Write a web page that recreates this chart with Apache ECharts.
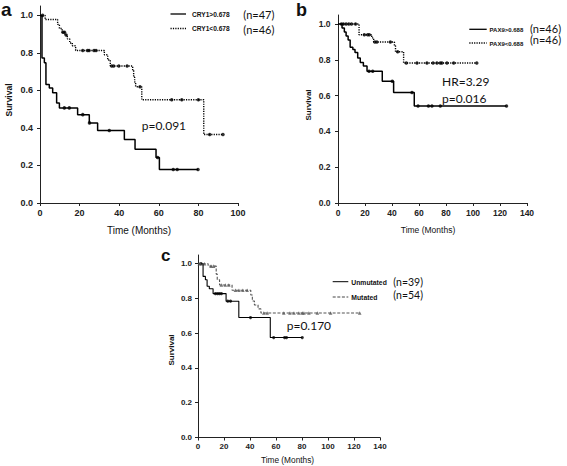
<!DOCTYPE html>
<html>
<head>
<meta charset="utf-8">
<script src="https://cdn.jsdelivr.net/npm/echarts@6/dist/echarts.min.js"></script>
<style>html,body{margin:0;padding:0;background:#fff}#c{width:567px;height:466px}</style>
</head>
<body>
<div id="c"></div>
<script>
// ---------- Panel a (CRY1) ----------
const aHighTime = [0, 1, 2.2, 3, 4.7, 6.4, 8.4, 9.8, 19, 24.9, 29.1, 42.6, 48, 58.6, 60.3, 79.8];
const aHighSurv = [1.0, 0.773, 0.747, 0.631, 0.613, 0.587, 0.533, 0.507, 0.471, 0.427, 0.386, 0.338, 0.287, 0.242, 0.179, 0.179];
const aHighCens = [12.3, 14.8, 21.6, 25.0, 35.0, 59.4, 67.3, 69.3, 79.8];
const aLowTime = [0, 2.6, 8.9, 9.8, 11.2, 12.6, 13.8, 15.0, 16.3, 18.0, 32.5, 34.2, 35.5, 46.8, 47.3, 47.8, 48.3, 51.4, 82.7, 92.4];
const aLowSurv = [1.0, 0.978, 0.952, 0.93, 0.91, 0.895, 0.875, 0.853, 0.838, 0.813, 0.79, 0.762, 0.73, 0.706, 0.67, 0.645, 0.62, 0.55, 0.365, 0.365];
const aLowCens = [1.3, 11.6, 12.4, 13.2, 21.6, 24.0, 24.8, 27.3, 28.3, 36.2, 37.2, 39.8, 44.0, 50.5, 66.5, 71.6, 80.0, 85.7, 92.4];

// ---------- Panel b (PAX9) ----------
const bHighTime = [0, 3, 4.7, 6, 7.5, 9, 11, 12.6, 14.6, 16.5, 18.8, 21.5, 32.8, 41.2, 56.5, 124.8];
const bHighSurv = [1.0, 0.978, 0.955, 0.933, 0.91, 0.87, 0.858, 0.84, 0.81, 0.785, 0.765, 0.736, 0.68, 0.617, 0.542, 0.542];
const bHighCens = [23.0, 25.7, 40.2, 54.8, 59.3, 67.0, 69.6, 75.8, 124.8];
const bLowTime = [0, 15.6, 25.0, 26.4, 41.8, 42.6, 48.6, 102.8];
const bLowSurv = [1.0, 0.94, 0.922, 0.899, 0.878, 0.845, 0.782, 0.782];
const bLowCens = [2.5, 4.0, 6.0, 8.0, 10.0, 13.0, 19.5, 22.0, 23.2, 27.3, 28.8, 38.8, 44.2, 50.6, 58.5, 65.9, 70.4, 73.3, 75.8, 77.0, 80.7, 85.7, 102.8];

// ---------- Panel c (mutation) ----------
const cUnmutTime = [0, 3.9, 5.7, 7.0, 8.7, 11.6, 21.6, 31.4, 55.6, 80.2];
const cUnmutSurv = [1.0, 0.927, 0.908, 0.87, 0.856, 0.828, 0.784, 0.69, 0.575, 0.575];
const cUnmutCens = [2.3, 13.4, 15.0, 16.5, 18.0, 22.9, 25.0, 40.4, 58.2, 66.6, 68.1, 80.2];
const cMutTime = [0, 7.8, 14.0, 14.8, 16.6, 26.2, 40.6, 41.8, 43.4, 46.2, 48.4, 124.4];
const cMutSurv = [1.0, 0.986, 0.94, 0.908, 0.877, 0.847, 0.82, 0.785, 0.762, 0.74, 0.716, 0.716];
const cMutCens = [1.0, 2.5, 5.0, 10.0, 12.0, 18.0, 21.0, 23.7, 28.8, 31.5, 34.5, 37.8, 50.6, 53.2, 66.0, 70.7, 73.8, 77.6, 80.2, 81.5, 85.3, 91.8, 102.0, 124.4];

// ---------- Axes / text ----------
const yTickValues = [0, 0.2, 0.4, 0.6, 0.8, 1.0];
const xMaxA = 100, xMaxB = 140, xMaxC = 140;
const panelLetters = ['a', 'b', 'c'];
const yTitle = 'Survival';
const xTitle = 'Time (Months)';
const legendA = ['CRY1>0.678', 'CRY1<0.678'];
const legendANs = ['(n=47)', '(n=46)'];
const legendB = ['PAX9>0.688', 'PAX9<0.688'];
const legendBNs = ['(n=46)', '(n=46)'];
const legendC = ['Unmutated', 'Mutated'];
const legendCNs = ['(n=39)', '(n=54)'];
const statA = ['p=0.091'];
const statB = ['HR=3.29', 'p=0.016'];
const statC = ['p=0.170'];

function steps(T, S) { return T.map((t, i) => [t, S[i]]); }
function survAt(T, S, t) { let v = S[0]; for (let i = 0; i < T.length; i++) { if (T[i] <= t + 1e-9) v = S[i]; } return v; }
function cens(T, S, C) { return C.map(t => [t, survAt(T, S, t)]); }

const AX = '#222';
const tickFont = { color: AX, fontSize: 8.5, fontWeight: 'bold', fontFamily: 'Liberation Sans, Arial, sans-serif' };

function xAxis(idx, max, fs) {
  return {
    type: 'value', gridIndex: idx, min: 0, max: max, interval: 20,
    axisLine: { show: true, onZero: false, lineStyle: { color: AX, width: 1 } },
    axisTick: { show: true, length: 3, lineStyle: { color: AX, width: 1 } },
    axisLabel: Object.assign({ margin: 5 }, tickFont, { fontSize: fs }),
    splitLine: { show: false }
  };
}
function yAxis(idx, fs, margin) {
  return {
    type: 'value', gridIndex: idx, min: 0, max: 1.05, interval: 0.2,
    axisLine: { show: true, onZero: false, lineStyle: { color: AX, width: 1 } },
    axisTick: { show: true, length: 3, customValues: yTickValues, lineStyle: { color: AX, width: 1 } },
    axisLabel: Object.assign({ margin: margin, customValues: yTickValues, formatter: v => v.toFixed(1) }, tickFont, { fontSize: fs }),
    splitLine: { show: false }
  };
}

function stepSeries(idx, name, T, S, color, width, type) {
  return {
    type: 'line', name: name, xAxisIndex: idx, yAxisIndex: idx, step: 'end',
    data: steps(T, S), showSymbol: false, symbol: 'none', silent: true,
    lineStyle: { color: color, width: width, type: type }
  };
}
function censSeries(idx, T, S, C, color, symbol, size) {
  return {
    type: 'scatter', xAxisIndex: idx, yAxisIndex: idx, data: cens(T, S, C),
    symbol: symbol, symbolSize: size, itemStyle: { color: color }, silent: true
  };
}

function txt(x, y, text, font, opts) {
  return Object.assign({
    type: 'text', x: x, y: y, silent: true,
    style: Object.assign({ text: text, font: font, fill: '#111', align: 'left', verticalAlign: 'middle', textAlign: 'left', textVerticalAlign: 'middle' }, (opts && opts.style) || {})
  }, (opts && opts.el) || {});
}
function ln(x1, y, x2, dash, color, w) {
  return { type: 'line', silent: true, shape: { x1: x1, y1: y, x2: x2, y2: y }, style: { stroke: color || '#000', lineWidth: w || 1.2, lineDash: dash || null } };
}
const center = { style: { align: 'center', textAlign: 'center' } };
const vert = (x, y, t, f) => txt(x, y, t, f, { style: { align: 'center', textAlign: 'center' }, el: { rotation: Math.PI / 2 } });

const F = 'Liberation Sans, Arial, sans-serif';
const FL = 'Lato, Open Sans, sans-serif';

const graphics = [
  // panel letters
  txt(1, 9.5, panelLetters[0], 'bold 19px ' + F),
  txt(296, 9.5, panelLetters[1], 'bold 18px ' + F),
  txt(161, 255, panelLetters[2], 'bold 17px ' + F),
  // axis titles
  vert(9, 100, yTitle, 'bold 8.5px ' + F),
  vert(308.5, 105, yTitle, 'bold 8px ' + F),
  vert(171, 350, yTitle, 'bold 8px ' + F),
  txt(139, 230, xTitle, '10px ' + F, center),
  txt(428, 230, xTitle, '8.5px ' + F, center),
  txt(287.5, 460, xTitle, '8.3px ' + F, center),
  // legend a
  ln(170.5, 14, 186, null, '#000', 1.3),
  ln(170.5, 28.5, 186, [1.2, 1.2], '#000', 1.3),
  txt(192, 14.3, legendA[0], 'bold 6.6px ' + F),
  txt(192, 28.8, legendA[1], 'bold 6.6px ' + F),
  txt(243.3, 14, legendANs[0], '11px ' + FL),
  txt(243.3, 29, legendANs[1], '11px ' + FL),
  // legend b
  ln(469.3, 29.3, 486.7, null, '#000', 1.3),
  ln(469.3, 43, 486.7, [1.2, 1.2], '#000', 1.3),
  txt(489.5, 30, legendB[0], 'bold 6px ' + F),
  txt(489.5, 44, legendB[1], 'bold 6px ' + F),
  txt(530, 28.3, legendBNs[0], '11px ' + FL),
  txt(530, 39.8, legendBNs[1], '11px ' + FL),
  // legend c
  ln(332.7, 281.7, 348.3, null, '#000', 1),
  ln(332.7, 297, 348.3, [3, 1.6], '#444', 1),
  txt(351.3, 282, legendC[0], 'bold 6.8px ' + F),
  txt(351.3, 297.3, legendC[1], 'bold 6.8px ' + F),
  txt(393.3, 282.3, legendCNs[0], '10.5px ' + FL),
  txt(393.3, 294.5, legendCNs[1], '10.5px ' + FL),
  // stats
  txt(141.7, 125.5, statA[0], '12px ' + FL),
  txt(442, 81.7, statB[0], '12px ' + FL),
  txt(442, 98.2, statB[1], '12px ' + FL),
  txt(286.7, 325, statC[0], '12px ' + FL)
];

const chart = echarts.init(document.getElementById('c'), null, { renderer: 'svg', width: 567, height: 466 });
chart.setOption({
  animation: false,
  backgroundColor: '#fff',
  grid: [
    { left: 40, top: 6, width: 198, height: 197, containLabel: false, outerBoundsMode: 'none' },
    { left: 338, top: 15, width: 189, height: 188, containLabel: false, outerBoundsMode: 'none' },
    { left: 198, top: 255, width: 182, height: 182.5, containLabel: false, outerBoundsMode: 'none' }
  ],
  xAxis: [xAxis(0, xMaxA, 9), xAxis(1, xMaxB, 8.5), xAxis(2, xMaxC, 8)],
  yAxis: [yAxis(0, 9, 7), yAxis(1, 8.5, 7.5), yAxis(2, 8, 6)],
  series: [
    stepSeries(0, legendA[0], aHighTime, aHighSurv, '#000', 1.5, 'solid'),
    stepSeries(0, legendA[1], aLowTime, aLowSurv, '#000', 1.4, [1.2, 1.2]),
    censSeries(0, aHighTime, aHighSurv, aHighCens, '#000', 'circle', 3.5),
    censSeries(0, aLowTime, aLowSurv, aLowCens, '#000', 'circle', 3.5),
    stepSeries(1, legendB[0], bHighTime, bHighSurv, '#000', 1.5, 'solid'),
    stepSeries(1, legendB[1], bLowTime, bLowSurv, '#000', 1.4, [1.2, 1.2]),
    censSeries(1, bHighTime, bHighSurv, bHighCens, '#000', 'circle', 3.5),
    censSeries(1, bLowTime, bLowSurv, bLowCens, '#000', 'circle', 3.5),
    stepSeries(2, legendC[0], cUnmutTime, cUnmutSurv, '#000', 1.1, 'solid'),
    stepSeries(2, legendC[1], cMutTime, cMutSurv, '#555', 1.1, [3, 1.6]),
    censSeries(2, cUnmutTime, cUnmutSurv, cUnmutCens, '#000', 'circle', 3.2),
    censSeries(2, cMutTime, cMutSurv, cMutCens, '#555', 'triangle', 3.6)
  ],
  graphic: graphics
});
</script>
</body>
</html>
